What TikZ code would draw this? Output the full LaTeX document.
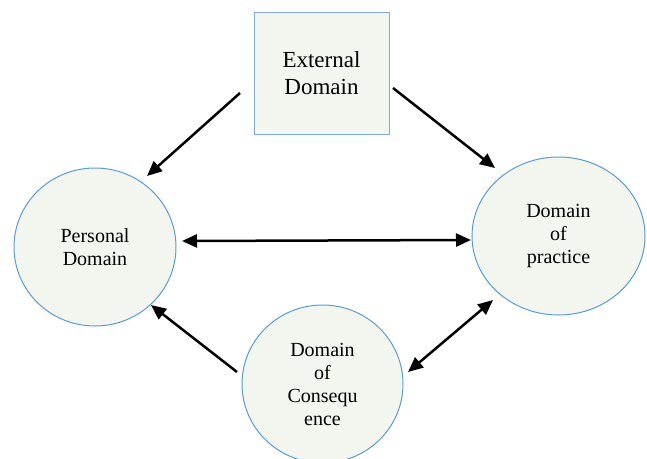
\documentclass[tikz,border=0pt]{standalone}
\usepackage{fontspec}
\setmainfont{Liberation Serif}
\usetikzlibrary{shapes.geometric,arrows.meta,calc}
\definecolor{fillc}{HTML}{F3F6EF}
\definecolor{edgec}{HTML}{5B9BD5}
\definecolor{boxedge}{HTML}{7FAADC}
\tikzset{
  dom/.style={ellipse, draw=edgec, line width=1pt, fill=fillc, inner sep=0pt, align=center,
     font=\fontsize{20}{23}\selectfont},
  extbox/.style={rectangle, draw=boxedge, line width=1pt, fill=fillc, minimum width=135pt,
     minimum height=122pt, align=center, font=\fontsize{23}{27}\selectfont},
  arr/.style={line width=2.5pt, -{Triangle[length=15pt,width=13pt]}},
  darr/.style={line width=2.5pt, {Triangle[length=15pt,width=13pt]}-{Triangle[length=15pt,width=13pt]}}
}
\begin{document}
\begin{tikzpicture}[x=1pt,y=-1pt]
\useasboundingbox (0,0) rectangle (647,458);
\node[extbox] (ext) at (321.5,73) {External\\Domain};
\node[dom, minimum width=162pt, minimum height=158pt] (pers) at (95,247) {Personal\\Domain};
\node[dom, minimum width=173pt, minimum height=158pt] (prac) at (558.5,236) {Domain\\of\\practice};
\node[dom, minimum width=161pt, minimum height=158pt] (cons) at (322.5,384) {Domain\\of\\Consequ\\ence};
\draw[arr] ($(ext)+(-81.5,20)$) -- ($(pers)+(52,-71)$);
\draw[arr] ($(ext)+(71.5,15)$) -- ($(prac)+(-63.5,-68)$);
\draw[darr] ($(pers)+(87,-6)$) -- ($(prac)+(-87.5,4)$);
\draw[arr] ($(cons)+(-85.5,-12)$) -- ($(pers)+(56,58)$);
\draw[darr] ($(cons)+(85.5,-12)$) -- ($(prac)+(-65.5,64)$);
\end{tikzpicture}
\end{document}
